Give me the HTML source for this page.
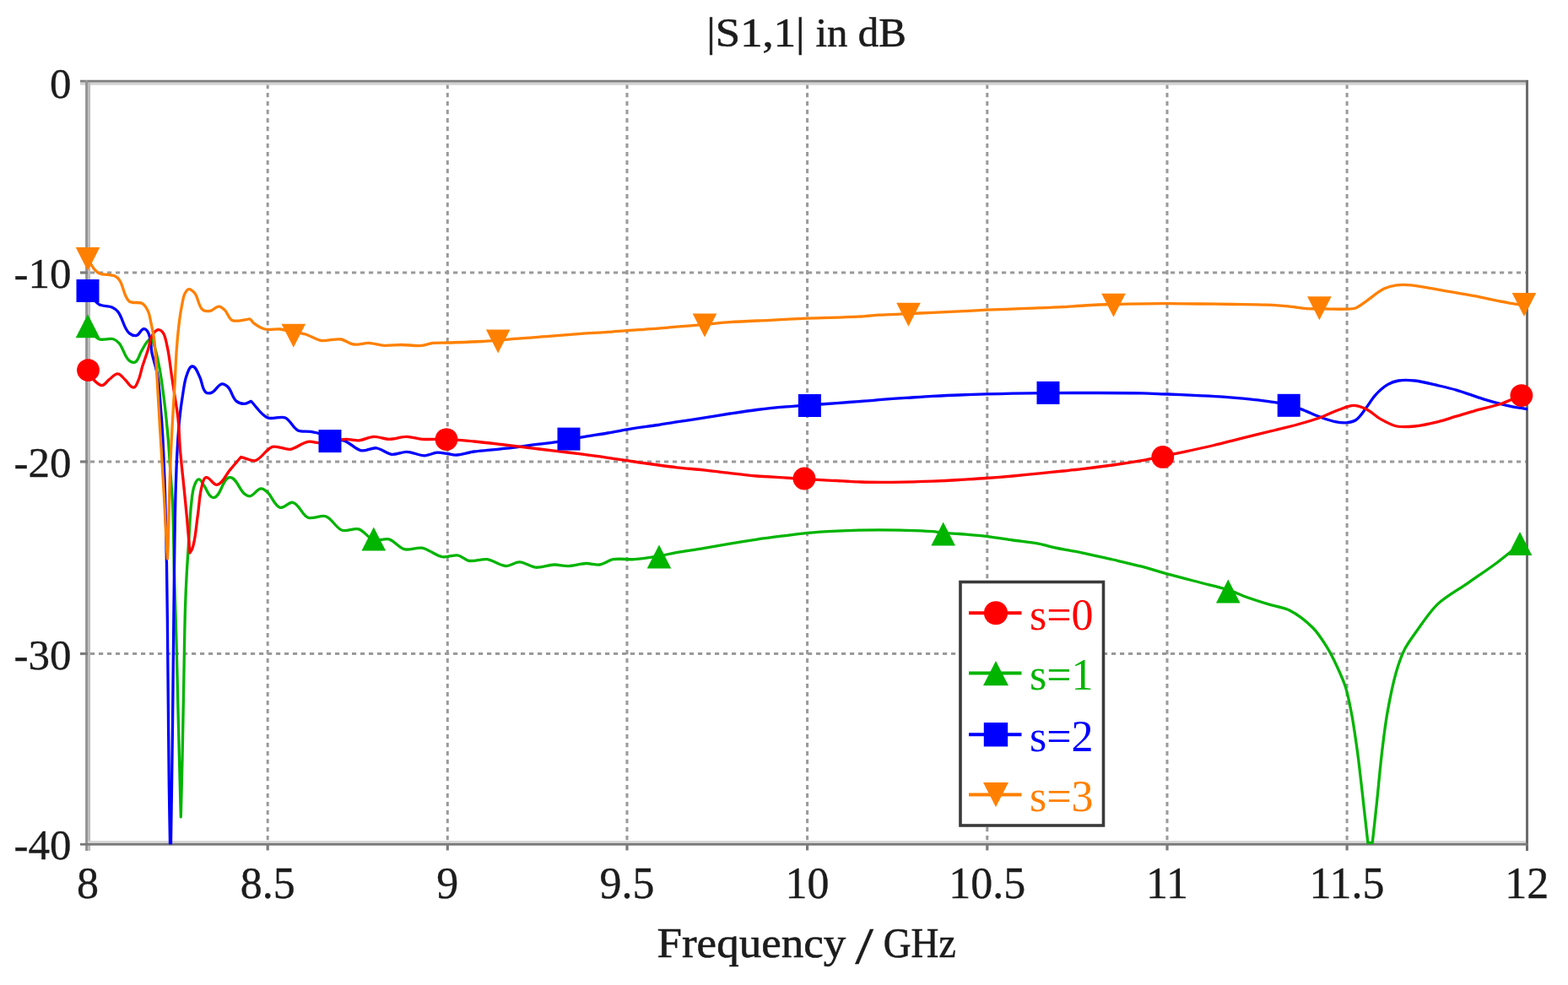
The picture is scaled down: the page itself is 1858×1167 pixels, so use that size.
<!DOCTYPE html><html><head><meta charset="utf-8"><title>|S1,1| in dB</title><style>html,body{margin:0;padding:0;background:#fff;overflow:hidden}svg{display:block}</style></head><body>
<svg width="1858" height="1167" viewBox="0 0 1858 1167">
<rect width="1858" height="1167" fill="#fff"/>
<g stroke="#9a9a9a" stroke-width="3" stroke-dasharray="5.2 4.8" fill="none">
<line x1="317.2" y1="100" x2="317.2" y2="998"/>
<line x1="530.3" y1="100" x2="530.3" y2="998"/>
<line x1="743.0" y1="100" x2="743.0" y2="998"/>
<line x1="956.6" y1="100" x2="956.6" y2="998"/>
<line x1="1169.8" y1="100" x2="1169.8" y2="998"/>
<line x1="1383.0" y1="100" x2="1383.0" y2="998"/>
<line x1="1596.1" y1="100" x2="1596.1" y2="998"/>
<line x1="107" y1="323" x2="1808" y2="323"/>
<line x1="107" y1="547" x2="1808" y2="547"/>
<line x1="107" y1="774.5" x2="1808" y2="774.5"/>
</g>
<g fill="none">
<line x1="95" y1="96.3" x2="1811" y2="96.3" stroke="#808080" stroke-width="3"/>
<line x1="95" y1="99.3" x2="1808" y2="99.3" stroke="#d2d2d2" stroke-width="3"/>
<line x1="102.6" y1="95" x2="102.6" y2="1008" stroke="#939393" stroke-width="3"/>
<line x1="105.6" y1="98" x2="105.6" y2="1008" stroke="#bcbcbc" stroke-width="3"/>
<line x1="1809.5" y1="95" x2="1809.5" y2="1008" stroke="#6c6c6c" stroke-width="3"/>
<line x1="104" y1="997.6" x2="1808" y2="997.6" stroke="#d2d2d2" stroke-width="2.6"/>
<line x1="95" y1="1000.3" x2="1811" y2="1000.3" stroke="#7a7a7a" stroke-width="2.8"/>
</g>
<g stroke="#7c7c7c" stroke-width="3.2" fill="none">
<line x1="317.2" y1="999.5" x2="317.2" y2="1007.5"/>
<line x1="530.3" y1="999.5" x2="530.3" y2="1007.5"/>
<line x1="743.0" y1="999.5" x2="743.0" y2="1007.5"/>
<line x1="956.6" y1="999.5" x2="956.6" y2="1007.5"/>
<line x1="1169.8" y1="999.5" x2="1169.8" y2="1007.5"/>
<line x1="1383.0" y1="999.5" x2="1383.0" y2="1007.5"/>
<line x1="1596.1" y1="999.5" x2="1596.1" y2="1007.5"/>
<line x1="95" y1="323" x2="104" y2="323"/>
<line x1="95" y1="547" x2="104" y2="547"/>
<line x1="95" y1="774.5" x2="104" y2="774.5"/>
</g>
<defs><clipPath id="pc"><rect x="104" y="97" width="1706" height="903.5"/></clipPath></defs>
<g fill="none" stroke-width="3.3" stroke-linejoin="round" stroke-linecap="round" clip-path="url(#pc)">
<path stroke="#00b400" d="M104.0,388.0C108.0,392.1 112.0,399.5 117.3,401.7C122.0,403.7 129.5,400.1 134.4,401.7C136.9,402.5 139.6,405.0 141.3,406.9C146.0,412.2 147.6,423.1 153.3,427.4C155.0,428.7 158.2,429.9 160.1,429.1C163.9,427.5 164.9,420.7 167.0,417.1C169.5,412.9 172.2,406.8 175.6,403.4C176.7,402.3 178.8,401.4 180.1,400.6C181.7,406.0 184.0,413.1 185.3,418.6C187.2,426.2 189.1,436.5 190.4,444.3C192.3,455.8 194.2,471.3 195.6,482.9C196.9,494.5 198.4,509.9 199.4,521.5C200.4,533.1 201.2,548.5 202.0,560.1C202.8,571.7 204.1,587.1 204.6,598.7C205.7,623.1 205.8,655.6 206.5,680.0C207.2,704.0 208.3,736.0 209.0,760.0C209.8,786.9 210.5,822.9 211.2,849.8C212.1,885.2 213.4,932.5 214.3,967.9C214.8,947.5 215.5,920.4 216.0,900.0C216.6,871.8 217.3,834.2 217.8,806.0C218.3,780.2 218.7,745.8 219.5,720.0C219.9,707.5 220.6,690.9 221.3,678.5C222.0,666.1 223.1,649.7 223.9,637.3C224.7,625.7 225.2,610.2 226.5,598.7C227.3,591.7 227.7,582.1 230.3,575.6C231.3,573.0 232.7,567.9 235.5,567.8C238.5,567.7 240.0,573.2 241.9,575.6C245.2,579.8 247.5,589.5 252.8,589.6C262.1,589.7 263.1,565.8 272.4,565.6C280.3,565.4 283.5,580.7 290.0,585.3C291.6,586.4 294.1,588.0 296.0,587.8C300.8,587.3 304.6,578.9 309.5,578.8C312.1,578.7 315.0,581.6 317.0,583.3C322.3,587.9 325.2,599.6 332.0,601.3C336.7,602.5 342.3,594.3 347.0,595.3C354.5,596.8 357.8,610.6 365.0,613.3C370.9,615.5 380.0,609.8 386.0,611.8C393.3,614.2 398.1,625.9 405.4,628.3C411.0,630.1 419.3,625.2 425.0,626.8C431.4,628.6 436.6,638.1 443.0,640.0C448.2,641.5 455.8,637.4 461.0,638.8C467.3,640.5 472.7,649.1 479.0,650.7C485.1,652.3 493.8,648.1 500.0,649.2C507.7,650.5 516.3,658.2 524.0,659.7C525.8,660.0 528.2,659.6 530.0,659.5C533.8,659.2 538.9,657.3 542.7,658.0C546.9,658.7 551.2,663.5 555.3,664.3C561.8,665.6 570.9,661.8 577.5,662.7C584.5,663.7 592.6,670.4 599.7,670.6C604.7,670.7 610.6,665.8 615.6,665.9C621.6,666.0 628.6,671.7 634.6,672.2C641.3,672.8 650.0,669.1 656.7,669.0C661.5,668.9 667.8,670.7 672.6,670.6C679.3,670.5 688.1,667.6 694.8,667.5C699.6,667.4 705.9,669.7 710.6,669.0C715.7,668.3 721.5,663.7 726.5,662.7C734.0,661.3 744.2,663.2 751.8,662.7C760.5,662.1 771.9,660.3 780.5,658.9C786.9,657.8 795.3,655.8 801.7,654.6C811.2,653.0 823.9,651.2 833.4,649.6C842.9,648.0 855.5,645.7 865.0,644.1C874.5,642.5 887.2,640.5 896.7,639.1C906.2,637.7 918.9,636.1 928.4,634.9C937.0,633.8 948.4,632.2 957.0,631.4C967.4,630.4 981.4,629.6 991.8,629.1C1000.3,628.7 1011.5,628.3 1020.0,628.1C1026.5,627.9 1035.2,627.9 1041.7,627.9C1051.2,627.9 1063.9,628.0 1073.4,628.3C1082.9,628.5 1095.5,628.9 1105.0,629.7C1108.8,630.0 1113.9,630.9 1117.7,631.3C1123.4,631.8 1131.0,632.1 1136.7,632.5C1146.2,633.3 1158.9,634.2 1168.4,635.3C1177.9,636.4 1190.5,638.6 1200.0,640.0C1209.5,641.3 1222.3,642.6 1231.8,644.4C1237.3,645.5 1244.5,647.7 1250.0,648.9C1260.2,651.1 1274.0,653.2 1284.3,655.4C1294.6,657.5 1308.3,660.7 1318.6,663.0C1328.9,665.4 1342.7,668.5 1352.9,671.2C1362.2,673.7 1374.4,677.7 1383.7,680.2C1395.0,683.3 1410.2,687.1 1421.5,690.0C1431.7,692.7 1445.5,695.6 1455.5,698.9C1461.5,700.8 1469.2,704.5 1475.1,706.7C1483.4,709.7 1494.7,713.3 1503.2,715.9C1510.5,718.1 1520.9,719.5 1527.8,722.9C1537.2,727.6 1548.5,736.5 1555.9,744.0C1562.2,750.5 1568.8,760.9 1573.5,768.6C1577.1,774.5 1581.1,782.8 1584.0,789.0C1587.5,796.5 1592.0,806.5 1594.5,814.3C1597.4,823.6 1599.8,836.4 1601.6,845.9C1604.2,859.5 1606.7,877.8 1608.6,891.5C1611.0,909.4 1613.6,933.3 1615.6,951.2C1617.2,965.4 1619.3,984.5 1620.9,998.7C1622.5,998.7 1624.6,998.7 1626.2,998.7C1627.8,984.5 1629.9,965.5 1631.4,951.2C1633.1,935.4 1634.9,914.4 1636.7,898.6C1638.5,882.8 1641.0,861.6 1643.7,845.9C1646.3,831.0 1650.1,811.2 1654.3,796.7C1656.8,788.1 1660.7,776.6 1664.8,768.6C1668.3,761.8 1674.4,753.7 1678.8,747.5C1685.8,737.7 1694.7,724.2 1703.4,715.9C1712.7,707.0 1728.0,698.7 1738.6,691.3C1749.1,683.9 1763.4,674.4 1773.7,666.7C1782.1,660.4 1792.8,651.5 1801.0,645.0"/>
<path stroke="#0000ff" d="M104.0,344.3C108.0,349.2 111.9,357.3 117.3,360.6C121.3,363.1 128.4,362.0 132.7,364.0C135.0,365.1 137.9,367.1 139.6,369.1C145.3,375.7 146.5,389.4 153.3,394.9C155.4,396.6 159.3,398.0 161.9,397.4C165.3,396.6 167.0,389.9 170.4,389.7C172.1,389.6 174.1,391.5 175.0,392.9C179.3,399.5 178.4,410.9 180.1,418.6C181.8,426.4 185.2,436.5 186.6,444.3C188.6,455.8 189.4,471.3 190.4,482.9C191.4,494.5 192.4,509.9 193.0,521.5C194.0,540.8 195.0,566.6 195.6,585.9C196.4,611.1 197.1,644.8 197.5,670.0C198.2,709.0 198.6,761.0 199.0,800.0C199.4,839.0 199.8,891.0 200.3,930.0C200.6,950.9 201.1,978.6 201.5,999.5C201.8,999.5 202.2,999.5 202.5,999.5C203.1,957.6 204.0,901.9 204.5,860.0C205.0,817.4 205.5,760.6 206.0,718.0C206.3,693.7 206.6,661.3 207.0,637.0C207.2,621.7 207.6,601.2 208.0,585.9C208.5,570.4 209.1,549.8 210.0,534.4C210.6,522.8 211.6,507.4 212.8,495.8C213.6,488.0 214.9,477.7 216.2,470.0C217.5,462.2 218.4,451.6 221.3,444.3C222.7,440.9 224.1,434.1 227.8,434.0C232.5,433.9 234.5,442.8 236.8,446.9C239.6,452.1 239.3,461.8 244.2,465.1C245.9,466.2 249.1,465.8 251.0,465.1C255.4,463.5 258.3,455.5 263.0,454.9C265.3,454.6 268.2,456.7 269.9,458.3C274.3,462.4 275.5,471.7 280.2,475.4C282.6,477.3 286.9,478.5 290.0,478.4C292.4,478.3 295.2,476.3 297.5,475.4C303.4,481.2 309.4,491.7 317.0,494.9C322.8,497.3 332.2,492.5 338.0,494.9C343.9,497.3 347.2,507.2 353.0,509.9C357.1,511.8 363.5,510.6 368.0,511.4C371.7,512.0 376.6,512.9 380.0,514.4C383.7,516.1 387.2,520.8 391.0,522.0C395.6,523.4 402.4,520.6 407.0,521.8C414.0,523.6 420.9,532.5 428.0,533.8C433.4,534.8 440.6,530.2 446.0,530.8C451.8,531.5 458.2,537.6 464.0,538.3C469.4,538.9 476.5,535.2 482.0,535.3C488.4,535.4 496.6,539.9 503.0,539.8C507.6,539.7 513.4,536.5 518.0,536.2C521.6,536.0 526.4,537.0 530.0,537.5C532.9,537.9 536.6,539.1 539.5,539.1C546.3,539.0 555.0,535.9 561.7,535.0C567.4,534.2 575.0,533.8 580.7,533.2C589.3,532.4 600.7,531.3 609.2,530.2C616.8,529.3 627.0,527.6 634.6,526.6C642.2,525.6 652.3,524.7 659.9,523.6C664.2,522.9 669.8,521.8 674.0,521.0C678.3,520.2 684.1,518.9 688.4,518.1C697.9,516.4 710.6,514.6 720.1,513.0C729.6,511.4 742.3,508.9 751.8,507.4C760.2,506.1 771.6,504.8 780.0,503.5C786.5,502.5 795.2,500.9 801.7,499.9C811.2,498.4 823.9,496.7 833.4,495.2C842.9,493.7 855.5,491.5 865.0,490.0C874.5,488.6 887.2,486.7 896.7,485.5C906.2,484.4 918.9,483.0 928.4,482.2C937.7,481.4 950.1,480.6 959.4,479.9C969.1,479.2 982.1,478.3 991.8,477.6C1000.3,476.9 1011.5,476.1 1020.0,475.5C1026.5,475.0 1035.2,474.2 1041.7,473.6C1051.2,472.9 1063.9,472.0 1073.4,471.4C1082.9,470.8 1095.5,469.9 1105.0,469.4C1114.5,468.9 1127.2,468.3 1136.7,468.0C1146.2,467.6 1158.9,467.2 1168.4,466.9C1177.9,466.7 1190.5,466.4 1200.0,466.2C1212.6,465.9 1229.4,465.7 1242.0,465.6C1259.4,465.5 1282.6,465.4 1300.0,465.5C1315.9,465.5 1337.0,465.6 1352.9,465.9C1362.1,466.1 1374.5,466.7 1383.7,467.0C1393.0,467.4 1405.3,467.9 1414.6,468.4C1424.9,468.9 1438.6,469.4 1448.9,470.1C1456.1,470.6 1465.7,471.4 1472.9,472.1C1478.0,472.6 1484.9,473.3 1490.0,473.9C1497.1,474.8 1506.6,475.8 1513.6,477.1C1517.7,477.9 1523.2,479.2 1527.2,480.3C1531.5,481.5 1537.2,483.1 1541.4,484.6C1548.6,487.2 1557.8,491.7 1565.0,494.3C1570.1,496.1 1576.8,498.6 1582.1,499.6C1586.2,500.4 1591.9,501.1 1596.1,500.7C1599.4,500.3 1604.0,499.3 1606.8,497.5C1611.4,494.5 1615.2,487.9 1618.6,483.6C1622.0,479.2 1625.6,472.7 1629.3,468.6C1633.3,464.2 1639.2,458.7 1644.3,455.7C1647.8,453.6 1653.1,451.7 1657.1,451.0C1662.8,450.0 1670.6,450.4 1676.4,451.0C1684.9,451.9 1696.0,454.9 1704.3,456.8C1710.7,458.3 1719.3,460.3 1725.7,462.1C1735.4,464.9 1748.1,469.9 1757.8,472.8C1767.4,475.7 1780.2,479.3 1790.0,481.4C1795.7,482.6 1803.5,483.6 1809.3,484.6"/>
<path stroke="#ff0000" d="M104.0,440.0C106.4,443.3 109.0,448.2 112.0,451.0C114.3,453.1 117.6,456.8 120.7,456.6C124.0,456.4 126.6,451.6 129.3,449.7C132.3,447.5 135.9,442.7 139.6,442.9C142.9,443.0 145.6,447.6 148.1,449.7C151.3,452.4 154.2,459.6 158.4,459.1C161.2,458.8 162.4,453.9 163.6,451.4C165.9,446.6 167.1,439.4 168.7,434.3C170.7,428.1 173.6,419.9 175.6,413.7C177.2,408.6 177.8,401.1 180.7,396.6C182.2,394.3 184.9,390.9 187.6,390.6C189.4,390.4 191.6,392.1 192.7,393.5C196.1,397.8 197.0,405.6 198.2,410.9C200.5,420.8 201.8,434.3 203.3,444.3C204.5,452.0 206.0,462.3 207.2,470.0C208.4,477.7 210.2,488.0 211.0,495.8C212.2,507.3 212.6,522.8 213.6,534.4C214.6,546.0 216.3,561.4 217.5,573.0C218.7,584.6 220.2,600.0 221.3,611.6C222.5,624.6 223.9,642.0 225.0,655.0C225.8,653.6 227.2,651.8 227.8,650.2C231.8,639.2 232.4,623.2 234.2,611.6C235.9,600.8 236.2,586.1 239.3,575.6C240.2,572.4 240.8,566.5 244.0,565.6C248.5,564.3 252.3,574.9 257.0,574.3C263.9,573.4 267.8,562.1 272.4,556.8C276.4,552.2 281.6,546.1 285.5,541.5C286.9,541.9 288.6,542.4 290.0,542.8C293.6,543.8 298.4,546.6 302.0,545.8C309.8,544.1 315.3,531.4 323.0,529.3C329.1,527.7 337.7,533.1 344.0,532.3C350.8,531.4 358.2,524.3 365.0,523.3C369.5,522.6 375.5,524.9 380.0,524.8C389.1,524.6 400.9,520.5 410.0,520.3C414.5,520.2 420.5,522.1 425.0,521.8C430.6,521.4 437.4,517.5 443.0,517.3C448.5,517.1 455.5,520.2 461.0,520.3C467.4,520.4 475.6,517.2 482.0,517.3C487.5,517.4 494.5,519.8 500.0,520.3C509.0,521.0 521.0,519.9 530.0,520.3C539.5,520.7 552.2,522.1 561.7,523.0C571.2,523.9 583.9,525.4 593.4,526.5C602.9,527.6 615.6,529.2 625.1,530.4C634.6,531.5 647.2,533.0 656.7,534.1C666.2,535.3 678.9,536.7 688.4,537.9C697.9,539.1 710.6,540.9 720.1,542.3C729.6,543.6 742.3,545.6 751.8,547.0C760.3,548.3 771.5,549.9 780.0,551.0C786.5,551.9 795.2,553.1 801.7,553.8C811.2,554.9 823.9,555.8 833.4,556.8C842.9,557.8 855.5,559.6 865.0,560.6C874.5,561.7 887.2,563.2 896.7,564.0C906.2,564.7 918.9,565.3 928.4,565.9C935.8,566.4 945.6,567.1 953.0,567.6C964.6,568.3 980.2,568.9 991.8,569.5C1000.3,570.0 1011.5,570.8 1020.0,571.0C1031.2,571.4 1046.3,571.4 1057.5,571.3C1071.8,571.1 1090.8,570.7 1105.0,570.2C1114.5,569.8 1127.2,569.1 1136.7,568.5C1146.2,567.9 1158.9,567.2 1168.4,566.5C1177.9,565.8 1190.5,564.8 1200.0,564.0C1209.5,563.1 1222.3,561.8 1231.8,560.9C1240.3,560.0 1251.5,558.9 1260.0,558.0C1267.3,557.2 1277.0,556.2 1284.3,555.3C1294.6,554.1 1308.3,552.5 1318.6,551.0C1328.9,549.6 1342.6,547.5 1352.9,545.7C1360.3,544.4 1370.2,542.3 1377.6,540.8C1385.6,539.1 1396.3,536.8 1404.3,535.1C1414.6,532.9 1428.3,529.9 1438.6,527.5C1448.9,525.0 1462.6,521.3 1472.9,518.8C1484.4,515.9 1499.9,512.3 1511.4,509.5C1519.1,507.6 1529.4,505.1 1537.1,503.0C1545.5,500.7 1556.8,497.5 1565.0,494.5C1571.5,492.1 1579.8,487.9 1586.4,485.5C1591.5,483.7 1598.2,480.3 1603.6,480.3C1608.3,480.3 1614.4,482.6 1618.6,484.6C1624.2,487.3 1630.3,493.3 1635.7,496.4C1641.2,499.5 1648.8,503.7 1655.0,505.0C1661.3,506.3 1670.0,505.6 1676.4,505.0C1684.9,504.2 1696.0,501.6 1704.3,499.6C1710.8,498.0 1719.3,495.1 1725.7,493.2C1732.1,491.3 1740.7,488.6 1747.1,486.8C1756.7,484.1 1769.8,481.4 1779.3,478.2C1786.3,475.8 1795.2,471.5 1802.0,468.6"/>
<path stroke="#ff8000" d="M104.0,306.0C106.4,310.0 109.0,315.8 112.1,319.4C113.4,320.9 115.5,322.8 117.3,323.7C122.5,326.1 130.9,324.7 136.1,327.1C137.9,328.0 140.1,329.8 141.3,331.4C146.5,338.1 146.5,351.9 153.3,357.1C157.0,359.9 164.7,357.2 168.7,359.7C171.7,361.5 174.1,365.9 175.6,369.1C177.4,373.0 178.1,378.7 179.0,382.9C180.1,388.0 181.6,394.8 182.4,400.0C183.2,405.1 183.7,412.0 184.1,417.1C185.1,429.1 185.9,445.2 186.6,457.2C187.8,476.5 189.2,502.2 190.4,521.5C191.6,540.8 193.2,566.6 194.3,585.9C195.2,601.3 196.0,621.9 196.9,637.3C197.3,644.7 198.0,654.6 198.5,662.0C198.8,654.6 199.2,644.7 199.4,637.3C199.9,621.9 200.2,601.3 200.7,585.9C201.0,574.3 201.5,558.9 202.0,547.3C202.7,531.8 203.7,511.2 204.6,495.8C205.3,484.2 206.3,468.6 207.0,457.0C207.7,445.3 208.2,429.7 209.0,418.0C209.7,408.1 210.8,394.9 212.0,385.0C212.8,378.1 214.1,368.8 215.5,362.0C216.4,357.8 217.0,351.8 219.0,348.0C220.0,346.1 221.5,342.9 223.6,342.6C226.0,342.2 228.8,345.1 230.4,346.9C235.0,352.0 235.0,363.5 240.7,367.4C242.8,368.9 246.7,368.8 249.3,368.3C252.7,367.7 256.1,362.9 259.6,363.1C262.0,363.2 264.6,365.7 266.4,367.4C269.6,370.4 271.0,377.5 275.0,379.4C279.6,381.6 287.0,379.1 292.1,378.6C293.3,378.5 294.9,377.6 296.0,378.0C297.9,378.7 299.1,381.7 300.7,382.9C304.3,385.6 309.6,388.9 314.0,390.0C319.2,391.3 326.6,389.5 332.0,390.0C336.6,390.5 342.5,392.1 347.0,393.0C351.5,393.9 357.6,394.7 362.0,396.0C367.6,397.7 374.2,402.4 380.0,403.4C387.1,404.6 396.9,400.8 404.0,402.0C408.8,402.8 414.2,407.3 419.0,408.0C424.4,408.8 431.6,406.2 437.0,406.4C442.5,406.6 449.5,409.1 455.0,409.4C461.3,409.8 469.7,408.5 476.0,408.5C483.2,408.5 492.8,410.1 500.0,409.4C504.0,409.0 509.0,406.9 513.0,406.4C518.1,405.8 524.9,406.2 530.0,406.0C542.4,405.6 558.8,405.2 571.2,404.5C576.9,404.2 584.5,403.6 590.2,403.2C595.9,402.7 603.5,401.9 609.2,401.4C621.5,400.3 638.0,399.3 650.4,398.4C661.8,397.5 677.0,396.2 688.4,395.4C697.9,394.7 710.6,394.1 720.1,393.4C727.7,392.9 737.9,391.9 745.5,391.4C755.8,390.7 769.7,390.1 780.0,389.2C786.5,388.7 795.2,387.7 801.7,387.1C811.7,386.3 825.0,385.3 835.0,384.4C844.0,383.6 856.0,382.2 865.0,381.6C879.3,380.6 898.3,380.0 912.6,379.3C925.9,378.7 943.7,377.7 957.0,377.1C975.9,376.3 1001.1,376.1 1020.0,375.0C1026.5,374.6 1035.2,373.7 1041.7,373.2C1052.1,372.6 1066.1,372.2 1076.5,371.7C1085.1,371.3 1096.4,370.7 1105.0,370.3C1114.5,369.8 1127.2,369.3 1136.7,368.9C1146.2,368.4 1158.9,367.7 1168.4,367.2C1182.7,366.6 1201.7,366.0 1216.0,365.4C1229.2,364.9 1246.8,364.4 1260.0,363.7C1267.3,363.3 1277.0,362.4 1284.3,362.0C1294.9,361.4 1308.9,360.8 1319.5,360.5C1331.6,360.1 1347.6,359.9 1359.7,359.8C1366.9,359.7 1376.5,359.6 1383.7,359.7C1395.0,359.7 1410.2,359.9 1421.5,360.0C1433.1,360.1 1448.5,360.3 1460.0,360.5C1472.0,360.7 1488.0,360.7 1500.0,361.2C1507.9,361.5 1518.5,362.1 1526.4,362.9C1532.9,363.5 1541.4,365.3 1547.9,365.7C1552.5,366.0 1558.8,365.6 1563.4,365.7C1567.1,365.8 1572.0,366.0 1575.7,366.1C1581.8,366.2 1590.0,366.4 1596.1,366.1C1599.0,366.0 1603.0,366.2 1605.7,365.3C1610.0,363.8 1614.8,359.6 1618.6,357.1C1625.1,352.7 1632.9,345.5 1640.0,342.1C1644.2,340.1 1650.4,338.5 1655.0,337.9C1660.1,337.2 1667.0,337.5 1672.1,337.9C1681.9,338.7 1694.6,341.6 1704.3,343.2C1717.2,345.4 1734.3,348.3 1747.1,350.7C1760.0,353.1 1777.1,357.2 1790.0,359.3C1794.8,360.1 1801.2,360.8 1806.0,361.4"/>
</g>
<g>
<polygon points="89.7,400.3 118.3,400.3 104.0,372.3" fill="#00b400"/>
<polygon points="428.5,652.5 457.1,652.5 442.8,624.5" fill="#00b400"/>
<polygon points="766.7,673.5 795.3,673.5 781.0,645.5" fill="#00b400"/>
<polygon points="1103.4,646.6 1132.0,646.6 1117.7,618.6" fill="#00b400"/>
<polygon points="1441.0,714.4 1469.6,714.4 1455.3,686.4" fill="#00b400"/>
<polygon points="1786.7,658.0 1815.3,658.0 1801.0,630.0" fill="#00b400"/>
<rect x="90.5" y="331.0" width="27.0" height="27.0" fill="#0000ff"/>
<rect x="377.5" y="509.1" width="27.0" height="27.0" fill="#0000ff"/>
<rect x="660.5" y="506.6" width="27.0" height="27.0" fill="#0000ff"/>
<rect x="945.9" y="467.0" width="27.0" height="27.0" fill="#0000ff"/>
<rect x="1228.5" y="451.9" width="27.0" height="27.0" fill="#0000ff"/>
<rect x="1513.7" y="466.8" width="27.0" height="27.0" fill="#0000ff"/>
<circle cx="104.5" cy="438.6" r="13.40" fill="#ff0000"/>
<circle cx="529" cy="520.6" r="13.40" fill="#ff0000"/>
<circle cx="953" cy="567" r="13.40" fill="#ff0000"/>
<circle cx="1377.8" cy="541.4" r="13.40" fill="#ff0000"/>
<circle cx="1802.9" cy="468.6" r="13.40" fill="#ff0000"/>
<polygon points="89.7,293.1 118.3,293.1 104.0,321.1" fill="#ff8000"/>
<polygon points="333.5,383.8 362.1,383.8 347.8,411.8" fill="#ff8000"/>
<polygon points="575.9,390.5 604.5,390.5 590.2,418.5" fill="#ff8000"/>
<polygon points="820.7,371.5 849.3,371.5 835.0,399.5" fill="#ff8000"/>
<polygon points="1062.2,358.7 1090.8,358.7 1076.5,386.7" fill="#ff8000"/>
<polygon points="1305.2,347.8 1333.8,347.8 1319.5,375.8" fill="#ff8000"/>
<polygon points="1549.1,351.2 1577.7,351.2 1563.4,379.2" fill="#ff8000"/>
<polygon points="1791.7,346.9 1820.3,346.9 1806.0,374.9" fill="#ff8000"/>
</g>
<rect x="1138" y="689.5" width="169.5" height="288.5" fill="#fff" stroke="#3a3a3a" stroke-width="3.6"/>
<line x1="1148" y1="726.2" x2="1210.5" y2="726.2" stroke="#ff0000" stroke-width="4"/>
<circle cx="1180" cy="726.2" r="14.07" fill="#ff0000"/>
<text x="1220" y="745.7" fill="#ff0000" font-family="'Liberation Serif', 'DejaVu Serif', serif" font-size="52">s=0</text>
<line x1="1148" y1="797.6" x2="1210.5" y2="797.6" stroke="#00b400" stroke-width="4"/>
<polygon points="1165.0,812.3 1195.0,812.3 1180.0,782.9" fill="#00b400"/>
<text x="1220" y="817.1" fill="#00b400" font-family="'Liberation Serif', 'DejaVu Serif', serif" font-size="52">s=1</text>
<line x1="1148" y1="870.3" x2="1210.5" y2="870.3" stroke="#0000ff" stroke-width="4"/>
<rect x="1165.8" y="856.1" width="28.4" height="28.4" fill="#0000ff"/>
<text x="1220" y="889.8" fill="#0000ff" font-family="'Liberation Serif', 'DejaVu Serif', serif" font-size="52">s=2</text>
<line x1="1148" y1="941.6" x2="1210.5" y2="941.6" stroke="#ff8000" stroke-width="4"/>
<polygon points="1165.0,926.9 1195.0,926.9 1180.0,956.3" fill="#ff8000"/>
<text x="1220" y="961.1" fill="#ff8000" font-family="'Liberation Serif', 'DejaVu Serif', serif" font-size="52">s=3</text>
<g font-family="'Liberation Serif', 'DejaVu Serif', serif" fill="#1c1c1c" stroke="#1c1c1c" stroke-width="0.6">
<text x="837.31" y="55" font-size="48.5" textLength="116.40" lengthAdjust="spacingAndGlyphs">|S1,1|</text>
<text x="966.52" y="55" font-size="48.5" textLength="107.27" lengthAdjust="spacingAndGlyphs">in dB</text>
<text x="778.44" y="1133.5" font-size="50.8" textLength="223.86" lengthAdjust="spacingAndGlyphs">Frequency</text>
<text x="1013.50" y="1141" font-size="62" textLength="21.33" lengthAdjust="spacingAndGlyphs">/</text>
<text x="1046.68" y="1133.5" font-size="50.8" textLength="85.91" lengthAdjust="spacingAndGlyphs">GHz</text>
<g font-size="52" text-anchor="middle" stroke-width="0.35">
<text x="104.0" y="1063.5">8</text>
<text x="317.2" y="1063.5">8.5</text>
<text x="530.3" y="1063.5">9</text>
<text x="743.0" y="1063.5">9.5</text>
<text x="956.6" y="1063.5">10</text>
<text x="1169.8" y="1063.5">10.5</text>
<text x="1383.0" y="1063.5">11</text>
<text x="1596.1" y="1063.5">11.5</text>
<text x="1809.3" y="1063.5">12</text>
</g>
<g font-size="51" text-anchor="end" stroke-width="0.35">
<text x="84.5" y="115.8">0</text>
<text x="84.5" y="341.3">-10</text>
<text x="84.5" y="565.3">-20</text>
<text x="84.5" y="792.8">-30</text>
<text x="84.5" y="1017.8">-40</text>
</g>
</g>
</svg></body></html>
